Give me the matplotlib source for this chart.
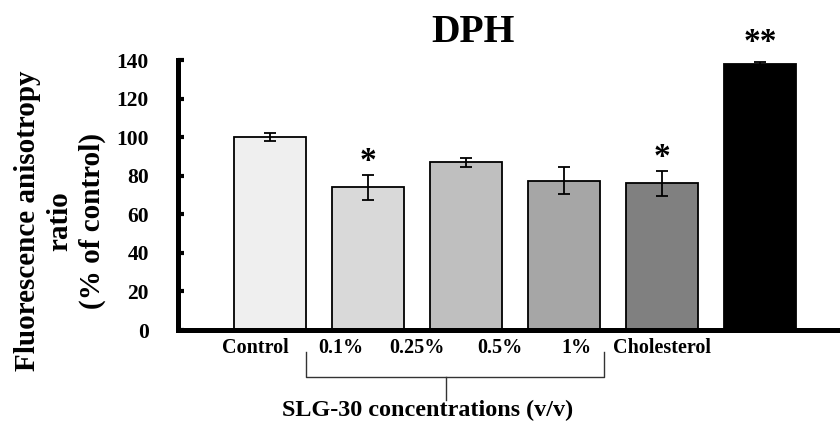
import matplotlib
matplotlib.use("Agg")
import matplotlib.pyplot as plt

# Data
categories = ["Control", "0.1%", "0.25%", "0.5%", "1%", "Cholesterol"]
values = [100.0, 74.0, 87.0, 77.5, 76.0, 138.0]
errors = [2.0, 6.5, 2.3, 6.8, 6.7, 0.8]
significance = ["", "*", "", "", "*", "**"]
bar_colors = ["#efefef", "#d9d9d9", "#bfbfbf", "#a6a6a6", "#808080", "#000000"]
yticks = [0, 20, 40, 60, 80, 100, 120, 140]

SERIF = ["Liberation Serif", "DejaVu Serif"]
plt.rcParams["font.family"] = SERIF
plt.rcParams["font.weight"] = "bold"

fig = plt.figure(figsize=(8.4, 4.23), dpi=100)
ax = fig.add_axes([178 / 840, 93 / 423, 662 / 840, 270 / 423])

x = list(range(len(categories)))
ax.bar(x, values, width=0.735, color=bar_colors, edgecolor="black",
       linewidth=1.3, zorder=2)
ax.errorbar(x, values, yerr=errors, fmt="none", ecolor="black",
            elinewidth=1.3, capsize=4, capthick=1.3, zorder=3)

ax.set_xlim(-0.939, 5.816)
ax.set_ylim(0, 140)
ax.set_yticks(yticks)
ax.set_xticks([])
ax.tick_params(axis="y", direction="in", length=4, width=3, pad=21,
               labelsize=15.5)
for lab in ax.get_yticklabels():
    lab.set_fontweight("bold")

for side in ("top", "right"):
    ax.spines[side].set_visible(False)
for side in ("left", "bottom"):
    ax.spines[side].set_linewidth(3.6)
    ax.spines[side].set_capstyle("projecting")

# significance marks above bars (double marks sit a little higher)
for xi, v, e, s in zip(x, values, errors, significance):
    if s:
        lift = 2.5 if len(s) == 1 else 6.0
        ax.text(xi, v + e + lift, s, ha="center", va="baseline",
                fontsize=24, fontweight="bold", clip_on=False)

# category labels under the axis
label_x = [-0.153, 0.724, 1.5, 2.347, 3.122, 4.0]
for lx, name in zip(label_x, categories):
    ax.text(lx, -9.3, name, ha="center", va="center", fontsize=14.5,
            fontweight="bold", clip_on=False)

# bracket grouping the SLG-30 concentrations
bk = dict(color="#333333", linewidth=1.0, clip_on=False)
ax.plot([0.367, 0.367, 3.408, 3.408], [-11.4, -24.4, -24.4, -11.4], **bk)
ax.plot([1.793, 1.793], [-24.4, -36.3], **bk)
ax.text(1.607, -41.5, "SLG-30 concentrations (v/v)", ha="center",
        va="center", fontsize=17.4, fontweight="bold", clip_on=False)

ax.text(2.07, 154, "DPH", ha="center", va="center", fontsize=28.5,
        fontweight="bold", clip_on=False)

fig.text(60 / 840, (423 - 221) / 423,
         "Fluorescence anisotropy\nratio\n(% of control)",
         rotation=90, ha="center", va="center", fontsize=21,
         fontweight="bold", linespacing=1.24, multialignment="center")

fig.savefig("out.png", dpi=100)
